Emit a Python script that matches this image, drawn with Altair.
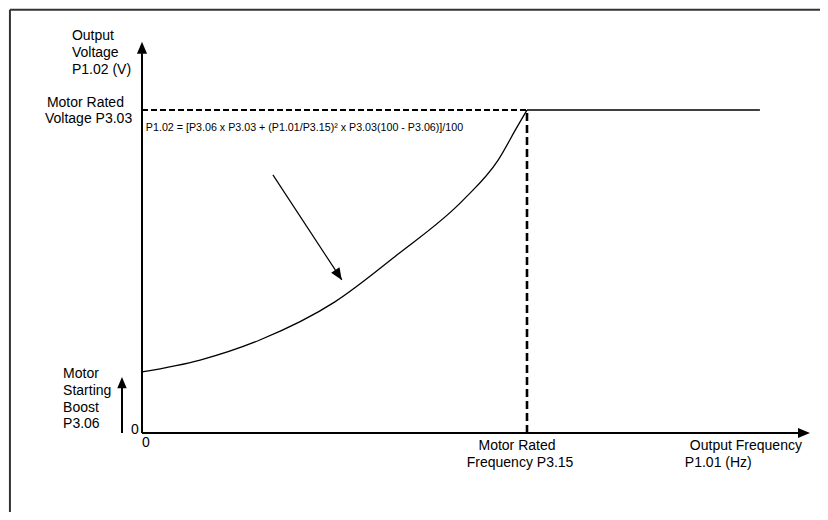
import altair as alt
import pandas as pd

# ---------------- data (frequency % of rated, voltage % of rated) ----------------
curve_freq = [0, 15.1, 30.6, 50.1, 66.2, 83.4, 92.5, 97.4, 100]
curve_volt = [18.9, 22.6, 28.8, 40.6, 55.1, 72.1, 84.5, 94.7, 100]

flat_freq = [100, 160.5]
flat_volt = [100, 100]

rated_freq = 100
rated_volt = 100

x_axis_end = 170.4      # frequency axis arrow
x_axis_tip = 173.5
y_axis_end = 117.6      # voltage axis arrow
y_axis_tip = 121.1

boost_x = -5.2          # starting boost indicator arrow
boost_tip = 17.3

pointer_from = (34.0, 79.9)
pointer_to = (51.9, 47.4)

formula = "P1.02 = [P3.06 x P3.03 + (P1.01/P3.15)\u00b2 x P3.03(100 - P3.06)]/100"

left_labels = ["Output", "Voltage", "P1.02 (V)",
               "Motor Rated", "Voltage P3.03",
               "Motor", "Starting", "Boost", "P3.06",
               "0", "Output Frequency", "P1.01 (Hz)"]
left_x = [-18.2, -18.2, -18.2,
          -24.7, -25.2,
          -20.5, -20.5, -20.5, -20.5,
          0, 142.3, 141.0]
left_y = [121.7, 116.4, 111.1,
          100.9, 96.0,
          17.0, 11.8, 6.5, 1.5,
          -4.3, -5.3, -10.5]

center_labels = ["Motor Rated", "Frequency P3.15"]
center_x = [97.4, 98.2]
center_y = [-5.3, -10.5]

right_labels = ["0"]
right_x = [-0.8]
right_y = [-0.3]

# ---------------- scales ----------------
X_DOMAIN = [-34.805, 176.104]
Y_DOMAIN = [-24.458, 131.579]
xs = alt.Scale(domain=X_DOMAIN, nice=False, zero=False)
ys = alt.Scale(domain=Y_DOMAIN, nice=False, zero=False)
FONT = "Liberation Sans"


def seg_layer(df, **mark):
    return alt.Chart(df).mark_rule(**mark).encode(
        x=alt.X("x:Q", scale=xs, axis=None),
        y=alt.Y("y:Q", scale=ys, axis=None),
        x2="x2:Q",
        y2="y2:Q",
    )


frame = pd.DataFrame({
    "x": [-34.3, -34.3], "y": [131.0, 131.0],
    "x2": [178.5, -34.3], "y2": [131.0, -27.0]})

axes = pd.DataFrame({
    "x": [0, 0, boost_x], "y": [0, 0, 0],
    "x2": [x_axis_end, 0, boost_x], "y2": [0, y_axis_end, boost_tip - 3]})

dash_h = pd.DataFrame({"x": [0], "y": [rated_volt], "x2": [rated_freq], "y2": [rated_volt]})
dash_v = pd.DataFrame({"x": [rated_freq], "y": [0], "x2": [rated_freq], "y2": [rated_volt]})
flat = pd.DataFrame({"x": [flat_freq[0]], "y": [flat_volt[0]],
                     "x2": [flat_freq[1]], "y2": [flat_volt[1]]})
pointer = pd.DataFrame({"x": [pointer_from[0]], "y": [pointer_from[1]],
                        "x2": [pointer_to[0]], "y2": [pointer_to[1]]})

curve = pd.DataFrame({"x": curve_freq, "y": curve_volt})

heads = pd.DataFrame({
    "x": [x_axis_tip, 0, boost_x, pointer_to[0]],
    "y": [0, y_axis_tip, boost_tip, pointer_to[1]],
    "angle": [90, 0, 0, 146.7],
    "size": [576, 576, 500, 560],
})

layers = [
    seg_layer(frame, color="#333333", strokeWidth=2),
    seg_layer(axes, color="black", strokeWidth=2),
    seg_layer(dash_h, color="black", strokeWidth=2, strokeDash=[6, 3]),
    seg_layer(dash_v, color="black", strokeWidth=2.6, strokeDash=[8, 4]),
    seg_layer(flat, color="black", strokeWidth=1.3),
    seg_layer(pointer, color="black", strokeWidth=1.2),
    alt.Chart(curve).mark_line(color="black", strokeWidth=1.3, interpolate="monotone").encode(
        x=alt.X("x:Q", scale=xs, axis=None), y=alt.Y("y:Q", scale=ys, axis=None)),
    alt.Chart(heads).mark_point(
        shape="M0,0L-0.42,1L0.42,1Z", filled=True, color="black", opacity=1, strokeWidth=0
    ).encode(
        x=alt.X("x:Q", scale=xs, axis=None), y=alt.Y("y:Q", scale=ys, axis=None),
        angle=alt.Angle("angle:Q", scale=None),
        size=alt.Size("size:Q", scale=None, legend=None)),
]

for labels, xv, yv, al in [(left_labels, left_x, left_y, "left"),
                           (center_labels, center_x, center_y, "center"),
                           (right_labels, right_x, right_y, "right")]:
    df = pd.DataFrame({"x": xv, "y": yv, "t": labels})
    layers.append(alt.Chart(df).mark_text(
        align=al, baseline="alphabetic", font=FONT, fontSize=14, color="black"
    ).encode(x=alt.X("x:Q", scale=xs, axis=None), y=alt.Y("y:Q", scale=ys, axis=None), text="t:N"))

fdf = pd.DataFrame({"x": [1.0], "y": [93.5], "t": [formula]})
layers.append(alt.Chart(fdf).mark_text(
    align="left", baseline="alphabetic", font=FONT, fontSize=10.7, color="black"
).encode(x=alt.X("x:Q", scale=xs, axis=None), y=alt.Y("y:Q", scale=ys, axis=None), text="t:N"))

chart = alt.layer(*layers).properties(
    width=812, height=504,
    autosize=alt.AutoSizeParams(type="none"),
    padding=0,
    background="white",
).configure_view(stroke=None)

chart.save("out.html", embed_options={"renderer": "svg", "actions": False})
